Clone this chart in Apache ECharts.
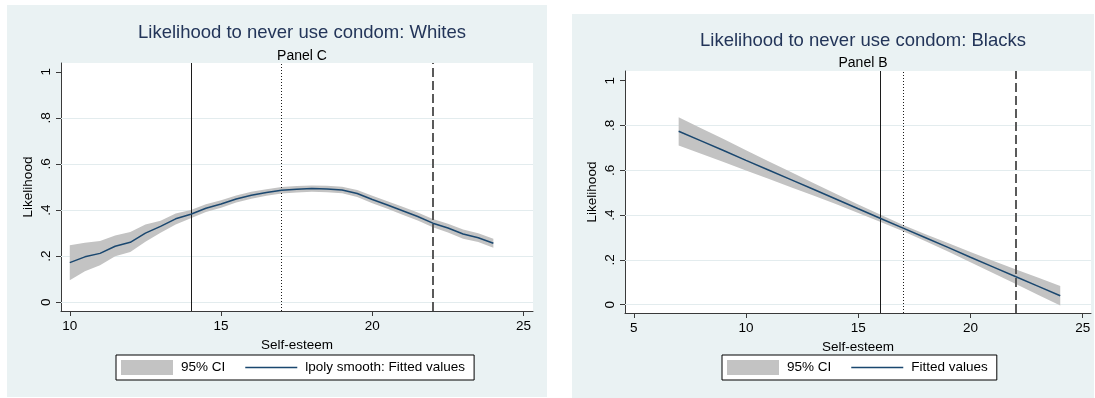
<!DOCTYPE html>
<html>
<head>
<meta charset="utf-8">
<script src="https://cdn.jsdelivr.net/npm/echarts@6/dist/echarts.min.js"></script>
<style>
  html, body { margin: 0; padding: 0; background: #ffffff; }
  #chart { width: 1095px; height: 398px; }
</style>
</head>
<body>
<div id="chart"></div>
<script>
// Whites: local polynomial smooth of likelihood on self-esteem, with 95% CI
const whitesX   = [10, 10.5, 11, 11.5, 12, 12.5, 13, 13.5, 14, 14.5, 15, 15.5, 16, 16.5, 17, 17.5, 18, 18.5, 19, 19.5, 20, 20.5, 21, 21.5, 22, 22.5, 23, 23.5, 24];
const whitesFit = [0.172, 0.197, 0.212, 0.243, 0.260, 0.300, 0.329, 0.362, 0.382, 0.408, 0.426, 0.448, 0.464, 0.476, 0.486, 0.490, 0.493, 0.491, 0.487, 0.472, 0.446, 0.422, 0.397, 0.372, 0.343, 0.322, 0.296, 0.280, 0.256];
const whitesLo  = [0.095, 0.135, 0.160, 0.200, 0.218, 0.262, 0.302, 0.337, 0.364, 0.391, 0.410, 0.433, 0.449, 0.462, 0.472, 0.476, 0.479, 0.477, 0.473, 0.457, 0.430, 0.406, 0.380, 0.355, 0.325, 0.303, 0.276, 0.261, 0.236];
const whitesHi  = [0.247, 0.258, 0.266, 0.290, 0.305, 0.337, 0.354, 0.385, 0.400, 0.425, 0.442, 0.463, 0.479, 0.490, 0.500, 0.504, 0.507, 0.505, 0.501, 0.487, 0.462, 0.438, 0.414, 0.389, 0.361, 0.341, 0.316, 0.299, 0.276];

// Blacks: linear fit of likelihood on self-esteem, with 95% CI
const blacksX   = [7, 8, 9, 10, 11, 12, 13, 14, 15, 16, 17, 18, 19, 20, 21, 22, 23, 24];
const blacksFit = [0.774, 0.731, 0.688, 0.644, 0.601, 0.558, 0.515, 0.472, 0.428, 0.385, 0.342, 0.299, 0.256, 0.212, 0.169, 0.126, 0.083, 0.040];
const blacksLo  = [0.711, 0.674, 0.637, 0.599, 0.562, 0.524, 0.487, 0.449, 0.409, 0.369, 0.328, 0.283, 0.237, 0.189, 0.142, 0.094, 0.045, -0.003];
const blacksHi  = [0.837, 0.788, 0.739, 0.689, 0.640, 0.592, 0.543, 0.495, 0.447, 0.401, 0.356, 0.315, 0.275, 0.235, 0.196, 0.158, 0.121, 0.083];

// Axis ticks and labels
const yTicks        = [0, 0.2, 0.4, 0.6, 0.8, 1];
const yTickLabels   = ['0', '.2', '.4', '.6', '.8', '1'];
const yGridValues   = [0, 0.2, 0.4, 0.6, 0.8];
const whitesXTicks  = [10, 15, 20, 25];
const blacksXTicks  = [5, 10, 15, 20, 25];

// Reference lines: solid, dotted, dashed
const whitesRefX = [14, 17, 22];
const blacksRefX = [16, 17, 22];

// Texts
const titles    = ['Likelihood to never use condom: Whites', 'Likelihood to never use condom: Blacks'];
const subtitles = ['Panel C', 'Panel B'];
const ciName    = '95% CI';
const fitNames  = ['lpoly smooth: Fitted values', 'Fitted values'];
const xName     = 'Self-esteem';
const yName     = 'Likelihood';

const FONT = 'Liberation Sans, Arial, sans-serif';
const BAND = '#c3c3c3';
const NAVY = '#1a476f';
const PANEL_BG = '#eaf2f3';
const GRIDLINE = '#e3ecee';
const AXIS = '#3a3a3a';
// Thin horizontal bar used as the legend key of the fitted line
const LINE_KEY = 'path://M0,0 L52,0 L52,1.5 L0,1.5 Z';

const chart = echarts.init(document.getElementById('chart'), null, { renderer: 'canvas' });

function yLabel(v) {
  const i = yTicks.findIndex(t => Math.abs(t - v) < 1e-9);
  return i >= 0 ? yTickLabels[i] : '';
}

function xAxisFor(gridIndex, min, max, ticks) {
  return {
    type: 'value', gridIndex, min, max,
    name: xName, nameLocation: 'middle', nameGap: 20,
    nameTextStyle: { fontFamily: FONT, fontSize: 13.5, color: '#000' },
    axisLine: { show: true, onZero: false, lineStyle: { color: AXIS, width: 1 } },
    axisTick: { show: true, length: 5, lineStyle: { color: AXIS }, customValues: ticks },
    axisLabel: { show: true, margin: 8, fontFamily: FONT, fontSize: 13.5, color: '#000', customValues: ticks,
                 formatter: v => String(v) },
    splitLine: { show: false }
  };
}

function yAxisFor(gridIndex, min, max) {
  return {
    type: 'value', gridIndex, min, max,
    name: yName, nameLocation: 'middle', nameGap: 26,
    nameTextStyle: { fontFamily: FONT, fontSize: 13.5, color: '#000' },
    axisLine: { show: true, onZero: false, lineStyle: { color: AXIS, width: 1 } },
    axisTick: { show: true, length: 5, lineStyle: { color: AXIS }, customValues: yTicks },
    axisLabel: { show: true, rotate: 90, margin: 8, fontFamily: FONT, fontSize: 13.5, color: '#000',
                 customValues: yTicks, formatter: yLabel },
    splitLine: { show: false }
  };
}

function bandSeries(xs, lo, hi, idx) {
  return {
    type: 'custom', name: ciName, xAxisIndex: idx, yAxisIndex: idx,
    data: xs.map((x, i) => [x, lo[i], hi[i]]),
    encode: { x: 0, y: [1, 2] },
    itemStyle: { color: BAND },
    silent: true, z: 2,
    renderItem: function (params, api) {
      if (params.dataIndex !== 0) return null;
      const pts = [];
      for (let i = 0; i < xs.length; i++) pts.push(api.coord([xs[i], hi[i]]));
      for (let i = xs.length - 1; i >= 0; i--) pts.push(api.coord([xs[i], lo[i]]));
      return { type: 'polygon', shape: { points: pts }, style: { fill: BAND } };
    },
    markLine: {
      silent: true, symbol: 'none', z: 1, animation: false,
      label: { show: false },
      lineStyle: { color: GRIDLINE, width: 1, type: 'solid' },
      data: yGridValues.map(v => ({ yAxis: v }))
    }
  };
}

function fitSeries(xs, ys, name, refX, idx) {
  const styles = [
    { type: 'solid', color: '#1c1c1c', width: 1 },
    { type: [1, 2], color: '#1c1c1c', width: 1 },
    { type: [9, 4], color: '#5a5a5a', width: 2 }
  ];
  return {
    type: 'line', name, xAxisIndex: idx, yAxisIndex: idx,
    data: xs.map((x, i) => [x, ys[i]]),
    showSymbol: false, symbol: 'none', smooth: false,
    lineStyle: { color: NAVY, width: 1.5 },
    itemStyle: { color: NAVY },
    z: 4, silent: true,
    markLine: {
      silent: true, symbol: 'none', z: 3, animation: false,
      label: { show: false },
      data: refX.map((v, i) => ({ xAxis: v, lineStyle: styles[i] }))
    }
  };
}

function legendFor(left, names) {
  return {
    left, top: 355, orient: 'horizontal',
    padding: [5, 9, 5, 5],
    itemWidth: 52, itemHeight: 15, itemGap: 20,
    symbolKeepAspect: true,
    borderColor: '#000', borderWidth: 1, backgroundColor: '#fff',
    selectedMode: false,
    textStyle: { fontFamily: FONT, fontSize: 13.5, color: '#000', padding: [0, 0, 0, 3] },
    data: [
      { name: ciName, icon: 'rect', itemStyle: { color: BAND } },
      { name: names, icon: LINE_KEY, itemStyle: { color: NAVY, borderWidth: 0 } }
    ]
  };
}

const option = {
  backgroundColor: '#ffffff',
  animation: false,
  graphic: [
    { type: 'rect', left: 7, top: 5, shape: { width: 540, height: 392 }, style: { fill: PANEL_BG }, z: -10, silent: true },
    { type: 'rect', left: 572, top: 14, shape: { width: 522, height: 384 }, style: { fill: PANEL_BG }, z: -10, silent: true }
  ],
  title: [
    { text: titles[0], left: 297, top: 18, textAlign: 'center',
      textStyle: { fontFamily: FONT, fontSize: 18.5, fontWeight: 'normal', color: '#233559' } },
    { text: subtitles[0], left: 297, top: 44, textAlign: 'center',
      textStyle: { fontFamily: FONT, fontSize: 14, fontWeight: 'normal', color: '#000' } },
    { text: titles[1], left: 858, top: 26, textAlign: 'center',
      textStyle: { fontFamily: FONT, fontSize: 18.5, fontWeight: 'normal', color: '#233559' } },
    { text: subtitles[1], left: 858, top: 51, textAlign: 'center',
      textStyle: { fontFamily: FONT, fontSize: 14, fontWeight: 'normal', color: '#000' } }
  ],
  legend: [
    legendFor(116, fitNames[0]),
    legendFor(722, fitNames[1])
  ],
  grid: [
    { left: 61, top: 63, width: 472, height: 248, show: true, backgroundColor: '#ffffff', borderWidth: 0, containLabel: false },
    { left: 625, top: 71, width: 466, height: 242, show: true, backgroundColor: '#ffffff', borderWidth: 0, containLabel: false }
  ],
  xAxis: [
    xAxisFor(0, 9.71, 25.31, whitesXTicks),
    xAxisFor(1, 4.61, 25.37, blacksXTicks)
  ],
  yAxis: [
    yAxisFor(0, -0.038, 1.038),
    yAxisFor(1, -0.037, 1.043)
  ],
  series: [
    bandSeries(whitesX, whitesLo, whitesHi, 0),
    fitSeries(whitesX, whitesFit, fitNames[0], whitesRefX, 0),
    bandSeries(blacksX, blacksLo, blacksHi, 1),
    fitSeries(blacksX, blacksFit, fitNames[1], blacksRefX, 1)
  ]
};

chart.setOption(option);
</script>
</body>
</html>
